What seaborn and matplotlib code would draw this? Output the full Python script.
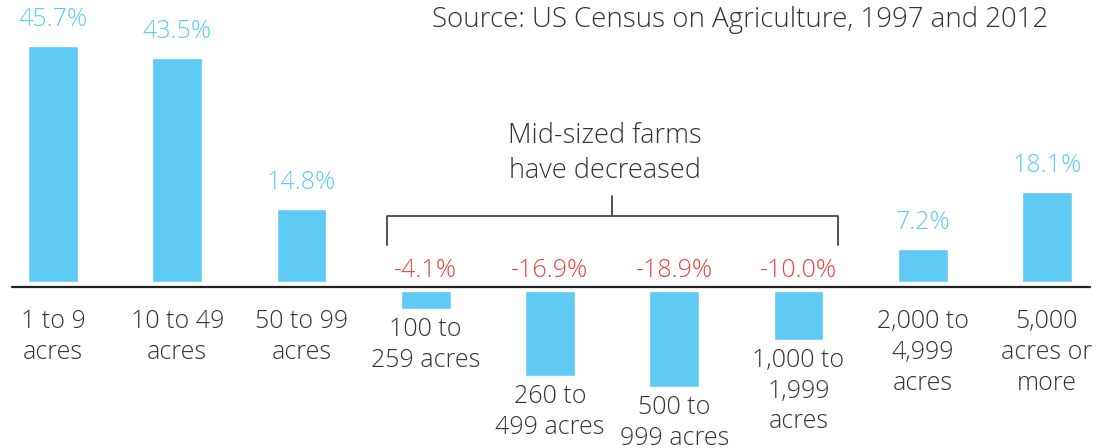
import matplotlib
matplotlib.use("Agg")
import matplotlib.pyplot as plt
import seaborn as sns
import pandas as pd

# Change in number of farms by size, 1997 to 2012
sizes = ["1 to 9\nacres", "10 to 49\nacres", "50 to 99\nacres", "100 to\n259 acres",
         "260 to\n499 acres", "500 to\n999 acres", "1,000 to\n1,999\nacres",
         "2,000 to\n4,999\nacres", "5,000\nacres or\nmore"]
change = [45.7, 43.5, 14.8, -4.1, -16.9, -18.9, -10.0, 7.2, 18.1]

df = pd.DataFrame({"size": sizes, "change": change})

blue = "#5FCAF3"
red = "#E8453C"
dark = "#333333"

sns.set_style("white")
plt.rcParams["font.family"] = ["Open Sans", "DejaVu Sans"]
plt.rcParams["font.weight"] = "light"

fig = plt.figure(figsize=(11.07, 4.48), dpi=100)
ax = fig.add_axes([0, 0, 1, 1])

sns.barplot(data=df, x="size", y="change", color=blue, saturation=1,
            width=0.4, ax=ax, zorder=1)

ax.set_xlim(-0.4266, 8.483)
ax.set_ylim(-30.55, 54.46)
ax.axis("off")

# baseline with a small white gap around it
ax.axhline(0, xmin=0.011, xmax=0.985, color="white", lw=7.5, zorder=2)
ax.axhline(0, xmin=0.011, xmax=0.985, color="#222222", lw=1.6, zorder=3)

for i, (lab, v) in enumerate(zip(sizes, change)):
    txt = f"{v:.1f}%"
    if v > 0:
        ax.annotate(txt, (i, v), xytext=(0, 10), textcoords="offset points",
                    ha="center", va="bottom", color=blue, fontsize=18)
        ax.annotate(lab, (i, 0), xytext=(0, -16), textcoords="offset points",
                    ha="center", va="top", color=dark, fontsize=18,
                    linespacing=1.3)
    else:
        ax.annotate(txt, (i, 0), xytext=(0, 3), textcoords="offset points",
                    ha="center", va="bottom", color=red, fontsize=18)
        ax.annotate(lab, (i, v), xytext=(0, -6), textcoords="offset points",
                    ha="center", va="top", color=dark, fontsize=18,
                    linespacing=1.3)

# bracket over the mid-sized farms
ax.plot([2.69, 2.69, 6.32, 6.32], [8.0, 13.4, 13.4, 8.0], color="#444444", lw=1.3)
ax.plot([4.5, 4.5], [13.4, 17.2], color="#444444", lw=1.3)
ax.text(4.443, 19.3, "Mid-sized farms\nhave decreased", ha="center", va="bottom",
        fontsize=19.5, color=dark, linespacing=1.35)

fig.text(0.947, 0.955, "Source: US Census on Agriculture, 1997 and 2012",
         ha="right", va="center", fontsize=19.9, color=dark)

fig.savefig("out.png", dpi=100)
